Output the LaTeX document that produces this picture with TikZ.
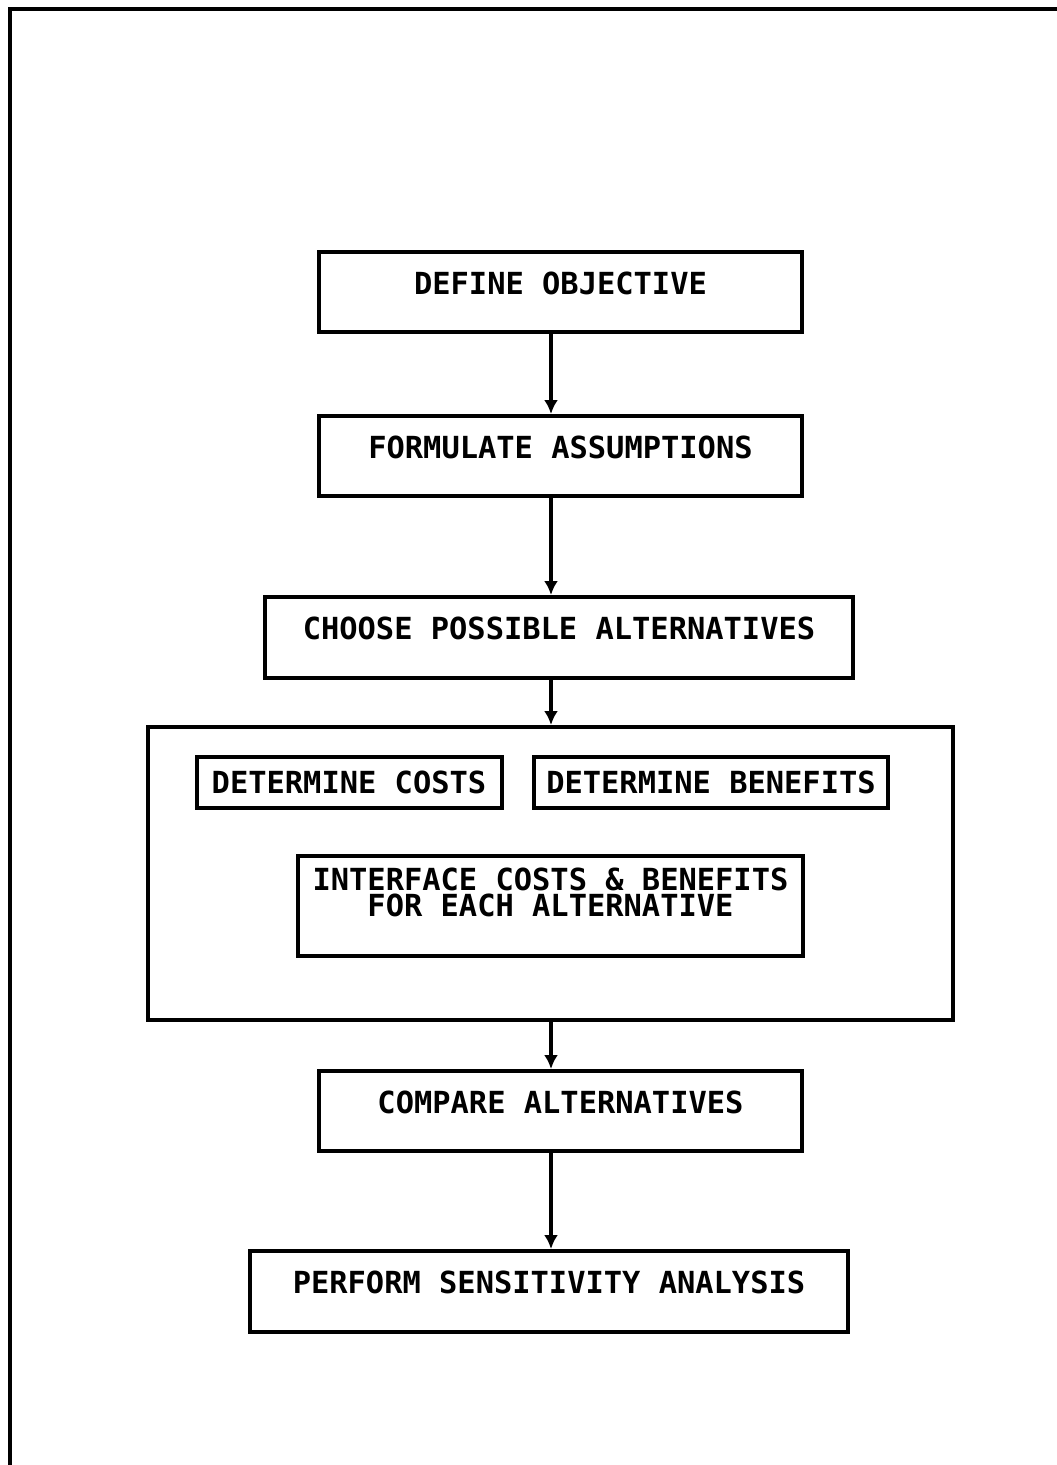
\documentclass[tikz,border=0pt]{standalone}
\usepackage{fontspec}
\newfontfamily\plotfont{DejaVu Sans Mono}
\usetikzlibrary{arrows.meta}
\begin{document}
\begin{tikzpicture}[x=1pt,y=-1pt,
  frameline/.style={line width=4.5pt},
  stepbox/.style={draw,line width=4pt,rectangle,inner sep=0pt,
    font=\plotfont\bfseries\fontsize{30.4}{26}\selectfont,
    text height=22pt,text depth=18pt},
  smallbox/.style={stepbox,text height=22pt,text depth=0pt},
  flowarrow/.style={line width=3.8pt,-{Latex[length=14pt,width=14pt]}}]
\useasboundingbox (0,0) rectangle (1057,1465);
% outer frame (top and left edges only)
\coordinate (ftl) at (10,9);
\coordinate (ftr) at (1057,9);
\coordinate (fbl) at (10,1465);
\draw[frameline] (ftr) -- (ftl) -- (fbl);
% nodes
\node[stepbox,minimum width=483pt,minimum height=80pt] (b1) at (560.5,292) {DEFINE OBJECTIVE};
\node[stepbox,minimum width=483pt,minimum height=80pt] (b2) at (560.5,456) {FORMULATE ASSUMPTIONS};
\node[stepbox,minimum width=588pt,minimum height=81pt] (b3) at (559,637.5) {CHOOSE POSSIBLE ALTERNATIVES};
\node[draw,line width=4pt,rectangle,minimum width=805pt,minimum height=293pt] (big) at (550.5,873.5) {};
\node[smallbox,minimum width=305pt,minimum height=51pt] (cost) at (349,782.5) {DETERMINE COSTS};
\node[smallbox,minimum width=354pt,minimum height=51pt] (ben) at (711,782.5) {DETERMINE BENEFITS};
\node[stepbox,minimum width=505pt,minimum height=100pt,text height=42pt,text depth=22pt] (inter) at (550.5,906)
  {\parbox[b]{500pt}{\centering\baselineskip=26pt INTERFACE COSTS \& BENEFITS\\FOR EACH ALTERNATIVE}};
\node[stepbox,minimum width=483pt,minimum height=80pt] (b8) at (560.5,1111) {COMPARE ALTERNATIVES};
\node[stepbox,minimum width=598pt,minimum height=81pt] (b9) at (549,1291.5) {PERFORM SENSITIVITY ANALYSIS};
% arrows
\coordinate (ax) at (551,0);
\draw[flowarrow] (b1.south -| ax) -- (b2.north -| ax);
\draw[flowarrow] (b2.south -| ax) -- (b3.north -| ax);
\draw[flowarrow] (b3.south -| ax) -- (big.north -| ax);
\draw[flowarrow] (big.south -| ax) -- (b8.north -| ax);
\draw[flowarrow] (b8.south -| ax) -- (b9.north -| ax);
\end{tikzpicture}
\end{document}
